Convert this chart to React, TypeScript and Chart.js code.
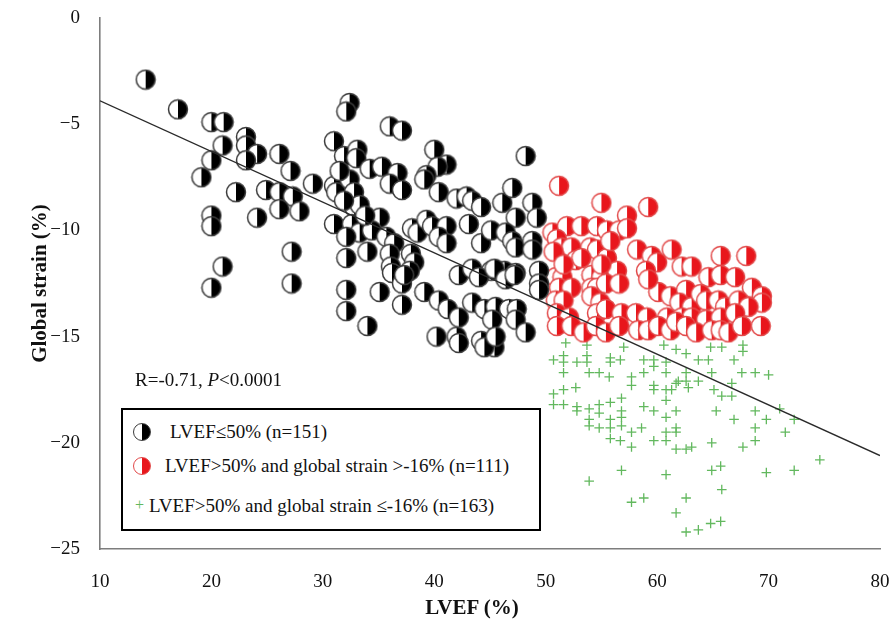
import React, { useEffect, useRef } from 'react';
import { Chart, registerables } from 'chart.js';

Chart.register(...registerables);

// LVEF ≤ 50% (black half-filled circles): [LVEF, global strain]
const lowEF: number[][] = [
  [14.1,-2.9],[17.0,-4.3],[20.0,-4.9],[21.1,-4.9],[21.0,-6.0],[23.1,-5.6],[23.1,-6.0],[24.1,-6.4],[26.1,-6.4],[20.0,-6.7],
  [23.1,-6.7],[27.1,-7.2],[19.1,-7.5],[29.1,-7.8],[22.2,-8.2],[24.9,-8.1],[26.1,-8.2],[27.3,-8.4],[26.1,-9.0],[27.9,-9.1],
  [24.1,-9.4],[20.0,-9.3],[20.0,-9.8],[27.2,-11.0],[21.0,-11.7],[20.0,-12.7],[27.2,-12.5],
  [32.4,-4.0],[32.1,-4.4],[36.0,-5.1],[37.1,-5.3],[31.0,-5.8],[31.9,-6.5],[33.1,-6.2],[33.0,-6.6],[34.2,-7.1],[35.3,-7.0],
  [36.7,-7.3],[36.0,-7.8],[37.1,-8.1],[40.0,-6.2],[41.1,-6.9],[40.3,-7.0],[39.3,-7.4],[39.1,-7.6],[48.2,-6.5],[31.0,-7.9],
  [31.2,-8.2],[32.4,-7.6],[32.8,-8.2],[32.8,-8.9],[33.3,-8.8],[40.4,-8.2],[42.0,-8.5],[42.9,-8.4],[43.4,-8.6],[44.2,-8.9],
  [46.1,-8.7],[47.0,-8.0],[48.8,-8.7],[49.2,-9.4],[47.3,-9.4],
  [31.0,-9.7],[32.6,-9.7],[33.3,-10.1],[35.1,-9.4],[34.4,-10.0],[35.7,-10.3],[36.4,-10.6],[36.0,-11.1],[38.0,-9.9],[38.5,-10.1],
  [39.3,-9.5],[39.8,-9.8],[41.1,-9.8],[40.4,-10.3],[41.1,-10.6],[37.9,-11.1],[43.1,-9.7],[44.2,-10.6],[45.1,-10.0],[46.4,-10.1],
  [47.0,-10.5],[47.3,-10.8],[32.1,-11.3],[34.0,-11.0],[36.1,-11.7],[38.2,-11.5],[42.2,-12.1],[43.4,-11.8],[45.1,-11.9],[46.3,-11.9],
  [47.3,-12.0],[49.4,-11.9],
  [36.2,-12.0],[37.8,-11.9],[37.1,-12.5],[37.3,-12.1],[32.1,-12.8],[35.1,-12.9],[32.1,-13.8],[34.0,-14.5],[37.1,-13.5],[39.1,-12.9],
  [40.4,-13.3],[41.2,-13.7],[40.2,-15.0],[42.0,-15.0],[44.0,-12.2],[45.4,-11.8],[46.4,-12.3],[47.2,-12.1],[49.4,-12.5],[49.4,-12.8],
  [43.4,-13.4],[44.5,-13.7],[42.2,-14.1],[45.5,-13.6],[46.7,-13.7],[47.4,-13.7],[47.3,-14.2],[45.2,-14.2],[48.2,-14.8],[44.2,-15.2],
  [45.4,-15.5],[44.5,-15.5],[45.5,-15.0],[42.2,-15.3],
  [31.9,-8.6],[31.5,-7.2],[33.8,-9.3],[32.1,-10.3],[48.8,-10.5],[48.8,-10.9]
];

// LVEF > 50% and global strain > -16% (red half-filled circles)
const normalEFHighStrain: number[][] = [
  [51.2,-7.9],[55.0,-8.7],[59.2,-8.9],[57.3,-9.3],[50.6,-10.1],[51.9,-9.8],[53.2,-9.8],[54.6,-9.8],[55.5,-10.0],[56.6,-10.0],
  [57.3,-9.9],[51.0,-10.4],[51.4,-10.8],[52.3,-10.8],[50.7,-11.0],[54.0,-10.8],[54.6,-10.9],[55.5,-11.3],[52.7,-11.4],[53.2,-11.3],
  [58.2,-10.9],[59.5,-11.2],[61.3,-10.9],[60.0,-11.5],[59.0,-11.9],[62.2,-11.7],[63.1,-11.7],[65.7,-11.2],[68.0,-11.2],[64.6,-12.2],
  [65.7,-12.1],[67.0,-12.2],[68.5,-12.7],[69.4,-13.1],[69.4,-13.4],[50.9,-12.2],[51.5,-12.2],[54.1,-12.1],[55.0,-12.2],[56.4,-11.9],
  [51.2,-12.7],[52.3,-12.7],[54.1,-12.7],[54.6,-12.7],[55.4,-12.5],[56.6,-12.5],[50.9,-13.3],[51.6,-13.3],[54.1,-13.1],[54.9,-13.4],
  [60.1,-12.9],[61.2,-13.1],[59.2,-12.3],[62.6,-12.8],[62.0,-13.4],[63.1,-13.6],[63.9,-13.0],[64.4,-13.3],[65.5,-13.3],[66.1,-13.6],
  [67.3,-13.3],[68.2,-13.6],[51.0,-13.9],[52.1,-14.1],[54.6,-13.9],[55.4,-13.7],[56.8,-13.9],[58.1,-13.9],[59.1,-14.1],[60.9,-14.1],
  [62.2,-14.1],[63.1,-14.1],[64.4,-14.2],[65.7,-14.1],[67.0,-13.9],[51.0,-14.5],[52.3,-14.5],[53.4,-14.8],[54.5,-14.5],[55.4,-14.8],
  [56.6,-14.5],[58.3,-14.7],[59.2,-14.7],[60.1,-14.5],[61.2,-14.7],[61.7,-14.3],[62.6,-14.5],[63.5,-14.8],[64.9,-14.7],[65.7,-14.7],
  [66.4,-14.8],[67.6,-14.5],[69.3,-14.5],[51.6,-11.6],[55.0,-11.6],[55.8,-10.5]
];

// LVEF > 50% and global strain ≤ -16% (green crosses)
const normalEFLowStrain: number[][] = [
  [50.7,-16.1],[51.6,-15.9],[51.6,-16.2],[51.6,-16.7],[51.8,-15.3],[52.8,-16.2],[53.7,-15.9],[53.7,-16.2],[53.9,-16.7],[54.8,-16.7],
  [53.7,-15.4],[55.8,-16.0],[55.8,-16.2],[55.7,-16.9],[56.7,-16.1],[57.0,-15.5],[58.8,-16.1],[58.8,-16.7],[59.7,-16.1],[59.7,-16.4],
  [60.8,-16.2],[60.8,-16.7],[60.6,-15.4],[61.7,-15.6],[62.6,-15.8],[63.7,-16.1],[64.6,-16.1],[64.8,-15.5],[65.8,-15.5],[66.9,-16.1],
  [67.7,-15.7],[67.7,-15.4],[67.6,-16.7],[68.8,-16.7],[57.7,-16.9],[57.7,-17.3],[62.6,-16.7],[62.6,-17.1],[61.7,-17.2],[63.7,-17.1],
  [64.9,-16.7],[66.7,-17.2],[50.7,-17.7],[51.6,-17.5],[52.7,-17.4],[50.7,-18.2],[51.6,-18.2],[52.8,-18.3],[52.8,-18.5],[53.9,-18.4],
  [54.8,-18.2],[54.8,-18.6],[53.9,-18.9],[53.9,-19.2],[54.8,-19.3],[55.8,-18.1],[55.8,-18.9],[55.8,-19.3],[55.8,-19.8],[56.8,-17.9],
  [56.8,-18.5],[56.8,-18.8],[56.8,-19.2],[56.7,-19.9],[57.7,-19.5],[57.7,-20.2],[58.6,-19.3],[58.8,-18.3],[59.7,-18.5],[59.7,-17.5],
  [59.7,-17.3],[60.8,-18.0],[60.8,-18.8],[59.7,-19.9],[60.8,-19.5],[60.8,-19.9],[61.7,-18.5],[61.7,-19.3],[61.7,-19.5],[60.8,-17.5],
  [61.3,-17.5],[61.9,-17.1],[62.8,-17.4],[61.7,-20.3],[62.6,-20.3],[63.1,-20.2],[64.9,-20.0],[65.3,-18.5],[65.1,-17.5],[65.8,-17.8],
  [66.7,-17.8],[66.9,-18.9],[67.7,-20.2],[68.8,-18.5],[68.8,-19.3],[68.8,-19.9],[69.8,-18.9],[53.9,-21.8],[56.8,-21.3],[60.8,-21.5],
  [57.7,-22.8],[58.8,-22.6],[61.7,-23.3],[62.6,-22.6],[64.9,-21.3],[65.7,-21.1],[65.8,-22.2],[69.8,-21.4],[62.6,-24.2],[63.7,-24.1],
  [64.8,-23.8],[65.7,-23.7],[70.0,-16.8],[71.0,-18.4],[71.5,-19.5],[72.3,-18.9],[74.6,-20.8],[72.3,-21.3]
];

// Regression line end points
const regressionLine: number[][] = [[10, -3.9], [80, -20.6]];

const xTicks = [10, 20, 30, 40, 50, 60, 70, 80];
const yTicks = [0, -5, -10, -15, -20, -25];

const SERIF = '"Liberation Serif", "Times New Roman", serif';

function makeMarker(fill: string, stroke: string) {
  const c = document.createElement('canvas');
  c.width = 22;
  c.height = 22;
  const g = c.getContext('2d')!;
  const cx = 11, cy = 11, r = 9.5;
  g.beginPath();
  g.arc(cx, cy, r, 0, Math.PI * 2);
  g.fillStyle = '#ffffff';
  g.fill();
  g.beginPath();
  g.moveTo(cx, cy - r);
  g.arc(cx, cy, r, -Math.PI / 2, Math.PI / 2);
  g.closePath();
  g.fillStyle = fill;
  g.fill();
  g.beginPath();
  g.arc(cx, cy, r, 0, Math.PI * 2);
  g.lineWidth = 1.5;
  g.strokeStyle = stroke;
  g.stroke();
  return c;
}

const toXY = (arr: number[][]) => arr.map(([x, y]) => ({ x, y }));

export default function App() {
  const ref = useRef<HTMLCanvasElement>(null);

  useEffect(() => {
    if (!ref.current) return;
    const blackMarker = makeMarker('#000000', '#3c3c3c');
    const redMarker = makeMarker('#e8161c', '#e24a4a');
    const chart = new Chart(ref.current, {
      type: 'scatter',
      data: {
        datasets: [
          {
            label: 'Regression',
            data: toXY(regressionLine),
            showLine: true,
            borderColor: '#2a2a2a',
            borderWidth: 1.4,
            pointRadius: 0,
            fill: false,
          } as any,
          {
            label: 'LVEF≤50% (n=151)',
            data: toXY(lowEF),
            pointStyle: blackMarker,
            pointRadius: 9,
          } as any,
          {
            label: 'LVEF>50% and global strain >-16% (n=111)',
            data: toXY(normalEFHighStrain),
            pointStyle: redMarker,
            pointRadius: 9,
          } as any,
          {
            label: 'LVEF>50% and global strain ≤-16% (n=163)',
            data: toXY(normalEFLowStrain),
            pointStyle: 'cross',
            pointRadius: 4.8,
            borderColor: '#62b85e',
            backgroundColor: '#62b85e',
            borderWidth: 1.3,
          } as any,
        ],
      },
      options: {
        responsive: false,
        animation: false,
        layout: { padding: 0 },
        plugins: {
          legend: { display: false },
          tooltip: { enabled: false },
        },
        scales: {
          x: {
            type: 'linear',
            min: 10,
            max: 80,
            afterBuildTicks: (s: any) => { s.ticks = xTicks.map((v) => ({ value: v })); },
            afterFit: (s: any) => {
              s.height = 75;
              s.paddingLeft = 0;
              s.paddingRight = 11;
            },
            ticks: {
              color: '#111',
              font: { family: SERIF, size: 19 },
              padding: 14,
            },
            grid: { display: false },
            border: { display: true, color: '#7d7d7d', width: 1.6 },
          },
          y: {
            type: 'linear',
            min: -25,
            max: 0,
            afterBuildTicks: (s: any) => { s.ticks = yTicks.map((v) => ({ value: v })); },
            afterFit: (s: any) => {
              s.width = 100;
              s.paddingTop = 18;
              s.paddingBottom = 0;
            },
            ticks: {
              color: '#111',
              font: { family: SERIF, size: 19 },
              padding: 12,
              callback: (v: any) => (Number(v) < 0 ? '\u2212' + Math.abs(Number(v)) : String(v)),
            },
            title: {
              display: true,
              text: 'Global strain (%)',
              color: '#111',
              font: { family: SERIF, size: 21, weight: 'bold' },
              padding: { top: 28, bottom: 0 },
            },
            grid: { display: false },
            border: { display: true, color: '#7d7d7d', width: 1.6 },
          },
        },
      } as any,
    });
    return () => chart.destroy();
  }, []);

  const textBase: React.CSSProperties = {
    position: 'absolute',
    fontFamily: SERIF,
    fontSize: 19,
    color: '#111',
    whiteSpace: 'nowrap',
    lineHeight: '22px',
    height: 22,
  };

  const iconStyle = (fill: string, stroke: string): React.CSSProperties => ({
    position: 'absolute',
    width: 16,
    height: 16,
    borderRadius: '50%',
    border: `1.5px solid ${stroke}`,
    background: `linear-gradient(to right, #ffffff 50%, ${fill} 50%)`,
  });

  return (
    <div style={{ position: 'fixed', left: 0, top: 0, width: 891, height: 624, background: '#fff', overflow: 'hidden' }}>
      <canvas ref={ref} width={891} height={624} style={{ position: 'absolute', left: 0, top: 0, display: 'block' }} />
      <div style={{ ...textBase, left: 135, top: 369 }}>
        R=-0.71, <i>P</i>&lt;0.0001
      </div>
      <div
        style={{
          position: 'absolute',
          left: 121,
          top: 408,
          width: 420,
          height: 123,
          border: '2px solid #000',
          boxSizing: 'border-box',
          background: '#fff',
        }}
      />
      <div style={{ ...iconStyle('#000000', '#3c3c3c'), left: 133, top: 423 }} />
      <div style={{ ...textBase, left: 170, top: 421 }}>LVEF≤50% (n=151)</div>
      <div style={{ ...iconStyle('#e8161c', '#e24a4a'), left: 133, top: 457 }} />
      <div style={{ ...textBase, left: 165, top: 455 }}>LVEF&gt;50% and global strain &gt;-16% (n=111)</div>
      <div style={{ ...textBase, left: 135, top: 494, color: '#62b85e', fontSize: 16 }}>+</div>
      <div style={{ ...textBase, left: 149, top: 495 }}>LVEF&gt;50% and global strain ≤-16% (n=163)</div>
      <div
        style={{
          ...textBase,
          left: 472 - 60,
          width: 120,
          textAlign: 'center',
          top: 596,
          fontSize: 21,
          fontWeight: 'bold',
        }}
      >
        LVEF (%)
      </div>
    </div>
  );
}
